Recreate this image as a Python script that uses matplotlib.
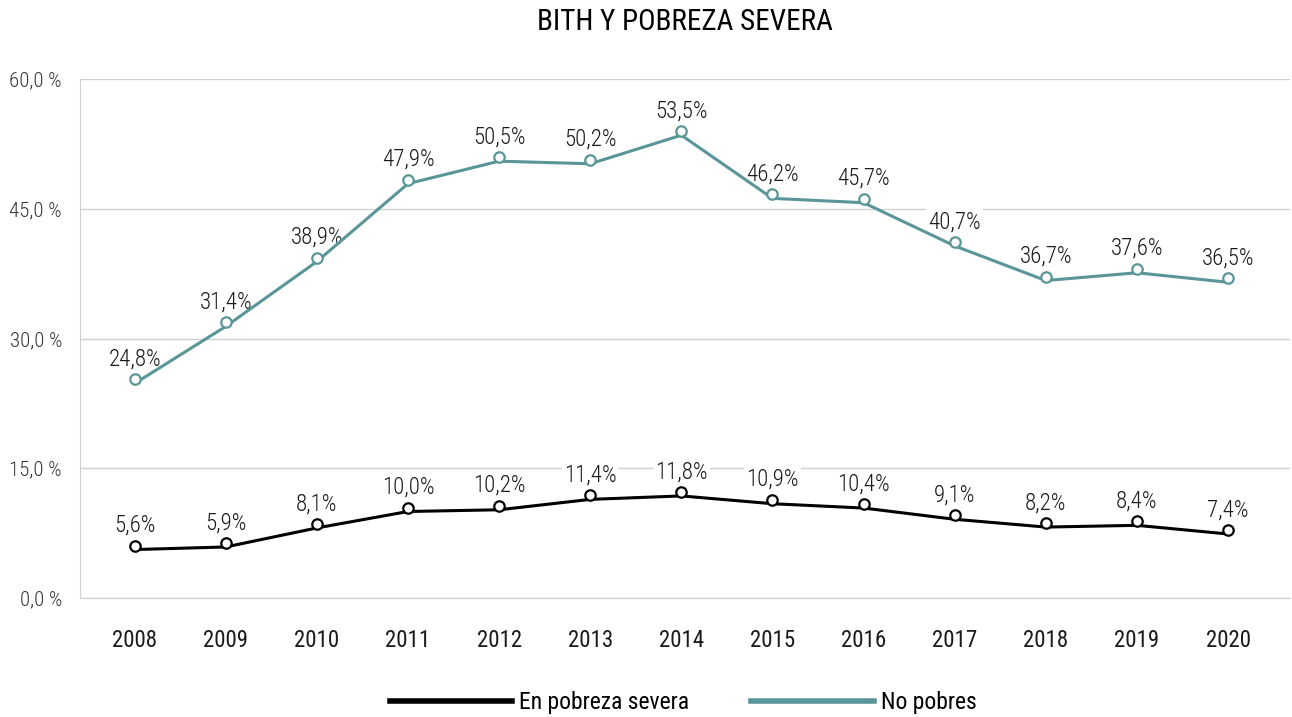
import matplotlib.pyplot as plt
import matplotlib.transforms as mtransforms

# data
years = ["2008", "2009", "2010", "2011", "2012", "2013", "2014",
         "2015", "2016", "2017", "2018", "2019", "2020"]
severa = [5.6, 5.9, 8.1, 10.0, 10.2, 11.4, 11.8, 10.9, 10.4, 9.1, 8.2, 8.4, 7.4]
no_pobres = [24.8, 31.4, 38.9, 47.9, 50.5, 50.2, 53.5, 46.2, 45.7, 40.7, 36.7, 37.6, 36.5]
yticks = [0, 15, 30, 45, 60]

plt.rcParams['font.family'] = ['Roboto Condensed', 'Liberation Sans Narrow', 'Roboto', 'DejaVu Sans']

teal = "#5A9597"
fig = plt.figure(figsize=(12.92, 7.17), dpi=100)
ax = fig.add_axes([80/1292, 1-598/717, 1210/1292, 519/717])

x = list(range(len(years)))
ax.plot(x, severa, color="black", lw=2.2, label="En pobreza severa", zorder=3)
ax.plot(x, no_pobres, color=teal, lw=2.2, label="No pobres", zorder=3)

# markers sit a few pixels above the line, as in the original
up = mtransforms.offset_copy(ax.transData, fig=fig, x=0, y=4, units='dots')
ax.plot(x, severa, ls="none", marker="o", ms=7.5, mfc="white", mec="black", mew=1.6,
        transform=up, zorder=4)
ax.plot(x, no_pobres, ls="none", marker="o", ms=7.5, mfc="white", mec=teal, mew=1.6,
        transform=up, zorder=4)

for xi, v in zip(x, severa):
    ax.annotate(f"{v:.1f}%".replace(".", ","), (xi, v), xytext=(0, 17.5),
                textcoords="offset points", ha="center", va="center", fontsize=16.5,
                fontweight="light", color="#1a1a1a", zorder=2.5,
                bbox=dict(boxstyle="square,pad=0.1", fc="white", ec="none"))
for xi, v in zip(x, no_pobres):
    ax.annotate(f"{v:.1f}%".replace(".", ","), (xi, v), xytext=(0, 17.5),
                textcoords="offset points", ha="center", va="center", fontsize=16.5,
                fontweight="light", color="#1a1a1a", zorder=2.5,
                bbox=dict(boxstyle="square,pad=0.1", fc="white", ec="none"))

ax.set_xlim(-0.6, 12.68)
ax.set_ylim(0, 60)
ax.set_xticks(x)
ax.set_xticklabels(years, fontsize=16.5, color="#1a1a1a")
ax.set_yticks(yticks)
ax.set_yticklabels([f"{t:.1f} %".replace(".", ",") for t in yticks], fontsize=15,
                   fontweight="light", color="#333333")
ax.tick_params(axis="x", length=0, pad=22)
ax.tick_params(axis="y", length=0, pad=13)
ax.grid(axis="y", color="#D0D0D0", lw=1)
ax.set_axisbelow(True)
for s in ["top", "right"]:
    ax.spines[s].set_visible(False)
ax.spines["left"].set_color("#D0D0D0")
ax.spines["bottom"].set_color("#D0D0D0")

fig.text(685/1292, 1-22/717, "BITH Y POBREZA SEVERA", ha="center", va="center",
         fontsize=21, color="black")

leg = fig.legend(loc="center", bbox_to_anchor=(683/1292, 1-703/717), ncol=2,
                 frameon=False, fontsize=17, handlelength=5.2, handletextpad=0.3,
                 columnspacing=2.6)
for h in leg.get_lines():
    h.set_linewidth(4)

fig.savefig("out.png", dpi=100)
